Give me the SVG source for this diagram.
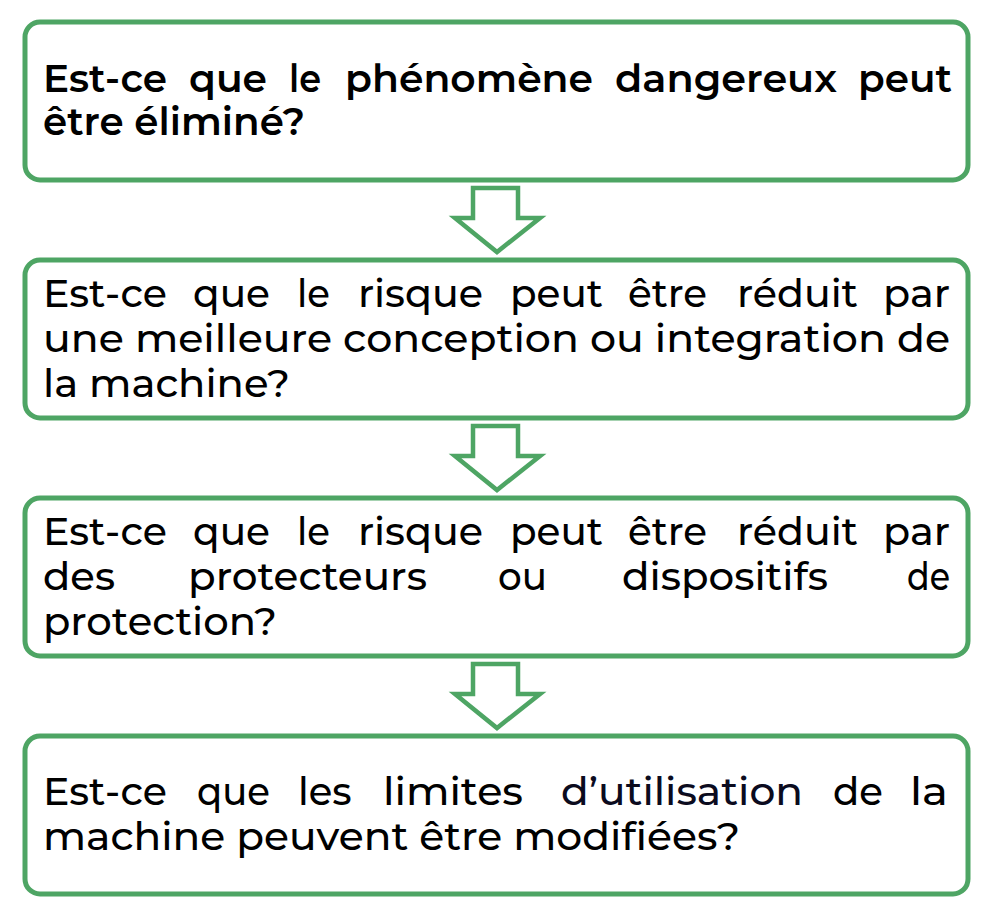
<svg xmlns="http://www.w3.org/2000/svg" width="1004" height="922" viewBox="0 0 1004 922">
<style>
.box{fill:#fff;stroke:#4ea564;stroke-width:5}
.arr{fill:#fff;stroke:#4ea564;stroke-width:4.5;stroke-linejoin:miter}
text{font-family:"Montserrat","Inter","DejaVu Sans",sans-serif;font-size:38.5px;fill:#000}
.b{font-weight:600}
.r{font-weight:500}
</style>
<rect width="1004" height="922" fill="#fff"/>
<g id="connectors">
<path class="arr" d="M473,188 H518 V218 H540 L497,252 L455,218 H473 Z"/>
<path class="arr" d="M473,426 H518 V456 H540 L497,490 L455,456 H473 Z"/>
<path class="arr" d="M473,664 H518 V694 H540 L497,728 L455,694 H473 Z"/>
</g>
<g id="node1">
<rect class="box" x="25" y="22" width="943" height="158" rx="15"/>
<g class="b">
<text x="43" y="92" textLength="124" lengthAdjust="spacingAndGlyphs">Est-ce</text>
<text x="189" y="92" textLength="78" lengthAdjust="spacingAndGlyphs">que</text>
<text x="289" y="92" textLength="32" lengthAdjust="spacingAndGlyphs">le</text>
<text x="345" y="92" textLength="248" lengthAdjust="spacingAndGlyphs">phénomène</text>
<text x="615" y="92" textLength="222" lengthAdjust="spacingAndGlyphs">dangereux</text>
<text x="858" y="92" textLength="94" lengthAdjust="spacingAndGlyphs">peut</text>
<text x="43" y="135" textLength="262" lengthAdjust="spacingAndGlyphs">être éliminé?</text>
</g>
</g>
<g id="node2">
<rect class="box" x="25" y="260" width="943" height="158" rx="15"/>
<g class="r">
<text x="43" y="307" textLength="124" lengthAdjust="spacingAndGlyphs">Est-ce</text>
<text x="193" y="307" textLength="77" lengthAdjust="spacingAndGlyphs">que</text>
<text x="297" y="307" textLength="33" lengthAdjust="spacingAndGlyphs">le</text>
<text x="358" y="307" textLength="125" lengthAdjust="spacingAndGlyphs">risque</text>
<text x="510" y="307" textLength="93" lengthAdjust="spacingAndGlyphs">peut</text>
<text x="628" y="307" textLength="79" lengthAdjust="spacingAndGlyphs">être</text>
<text x="737" y="307" textLength="121" lengthAdjust="spacingAndGlyphs">réduit</text>
<text x="883" y="307" textLength="67" lengthAdjust="spacingAndGlyphs">par</text>
<text x="43" y="352" textLength="907" lengthAdjust="spacingAndGlyphs">une meilleure conception ou integration de</text>
<text x="43" y="397" textLength="247" lengthAdjust="spacingAndGlyphs">la machine?</text>
</g>
</g>
<g id="node3">
<rect class="box" x="25" y="498" width="943" height="158" rx="15"/>
<g class="r">
<text x="43" y="545" textLength="124" lengthAdjust="spacingAndGlyphs">Est-ce</text>
<text x="193" y="545" textLength="77" lengthAdjust="spacingAndGlyphs">que</text>
<text x="297" y="545" textLength="33" lengthAdjust="spacingAndGlyphs">le</text>
<text x="358" y="545" textLength="125" lengthAdjust="spacingAndGlyphs">risque</text>
<text x="510" y="545" textLength="93" lengthAdjust="spacingAndGlyphs">peut</text>
<text x="628" y="545" textLength="79" lengthAdjust="spacingAndGlyphs">être</text>
<text x="737" y="545" textLength="121" lengthAdjust="spacingAndGlyphs">réduit</text>
<text x="883" y="545" textLength="67" lengthAdjust="spacingAndGlyphs">par</text>
<text x="43" y="590" textLength="72" lengthAdjust="spacingAndGlyphs">des</text>
<text x="188" y="590" textLength="239" lengthAdjust="spacingAndGlyphs">protecteurs</text>
<text x="498" y="590" textLength="49" lengthAdjust="spacingAndGlyphs">ou</text>
<text x="622" y="590" textLength="206" lengthAdjust="spacingAndGlyphs">dispositifs</text>
<text x="907" y="590" textLength="43" lengthAdjust="spacingAndGlyphs">de</text>
<text x="43" y="635" textLength="234" lengthAdjust="spacingAndGlyphs">protection?</text>
</g>
</g>
<g id="node4">
<rect class="box" x="25" y="736" width="943" height="158" rx="15"/>
<g class="r">
<text x="43" y="805" textLength="124" lengthAdjust="spacingAndGlyphs">Est-ce</text>
<text x="197" y="805" textLength="73" lengthAdjust="spacingAndGlyphs">que</text>
<text x="298" y="805">les</text>
<text x="383" y="805" textLength="140" lengthAdjust="spacingAndGlyphs">limites</text>
<text x="561" y="805" textLength="242" lengthAdjust="spacingAndGlyphs" style="fill:#0b0b1e">d’utilisation</text>
<text x="833" y="805" textLength="50" lengthAdjust="spacingAndGlyphs">de</text>
<text x="910" y="805" textLength="38" lengthAdjust="spacingAndGlyphs">la</text>
<text x="43" y="850" textLength="697" lengthAdjust="spacingAndGlyphs">machine peuvent être modifiées?</text>
</g>
</g>
</svg>
